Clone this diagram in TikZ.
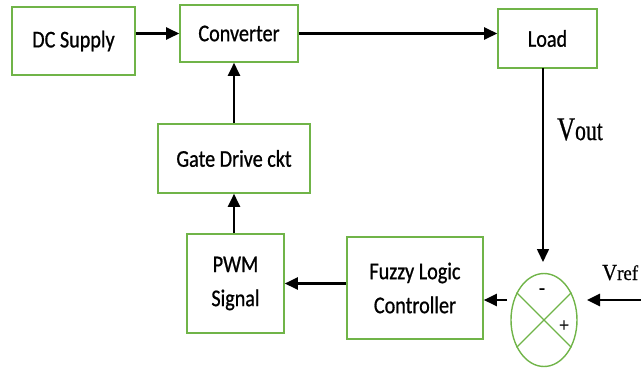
\documentclass[tikz,border=0pt]{standalone}
\usepackage{fontspec}
\setmainfont{Carlito}[FakeStretch=0.84, FakeBold=0.8]
\newfontfamily\tms{Liberation Serif}[FakeStretch=0.75, FakeBold=0.6]
\newfontfamily\tmsb{Liberation Serif}[FakeStretch=0.9, FakeBold=0.6]
\usetikzlibrary{arrows.meta,shapes.geometric}
\definecolor{boxgreen}{RGB}{112,180,72}
\tikzset{
  blk/.style={draw=boxgreen, line width=1.6pt, fill=white, inner sep=0pt, align=center,
              font=\fontsize{24}{34}\selectfont},
  arr/.style={line width=2.6pt, -{Triangle[length=13pt,width=12pt]}},
  thinarr/.style={line width=1.6pt, -{Triangle[length=13pt,width=12pt]}},
}
\begin{document}
\begin{tikzpicture}[x=1pt,y=-1pt]
\useasboundingbox (0,0) rectangle (641,372);
\node[blk, minimum width=123pt, minimum height=68pt] (dc) at (73.5,41) {DC Supply};
\node[blk, minimum width=118pt, minimum height=57pt] (conv) at (239,33.5) {Converter};
\node[blk, minimum width=99pt, minimum height=59pt] (load) at (547.5,38.5) {Load};
\node[blk, minimum width=152pt, minimum height=69pt] (gate) at (234,158.5) {Gate Drive ckt};
\node[blk, minimum width=97pt, minimum height=99pt] (pwm) at (235.5,283.5) {PWM\\Signal};
\node[blk, minimum width=136pt, minimum height=102pt] (fuzzy) at (415,288) {Fuzzy Logic\\Controller};
\node[draw=boxgreen, line width=1.4pt, ellipse, minimum width=66pt, minimum height=93pt, inner sep=0pt] (sum) at (544,320) {};
\draw[boxgreen, line width=1.4pt] (sum.135) -- (sum.-45);
\draw[boxgreen, line width=1.4pt] (sum.45) -- (sum.-135);
\node[font=\tmsb\fontsize{20}{20}\selectfont, inner sep=0pt] (minus) at (542,291) {-};
\node[font=\tmsb\fontsize{20}{20}\selectfont, inner sep=0pt] (plus) at (564,326) {+};

\coordinate (sl) at (507,300);
\coordinate (fe) at (fuzzy.east |- sl);
\coordinate (vin) at (645,300);
\coordinate (vtip) at (587,300);
\coordinate (ltop) at (543,68);
\coordinate (ltip) at (543,262);

\draw[arr] (dc.east |- conv.west) -- (conv.west);
\draw[arr] (conv.east) -- (conv.east -| load.west);
\draw[arr] (gate.north) -- (gate.north |- conv.south);
\draw[arr] (pwm.north -| gate.south) -- (gate.south);
\draw[arr] (fuzzy.west |- pwm.east) -- (pwm.east);
\draw[arr] (sl) -- (fe);
\draw[arr] (vin) -- (vtip);
\draw[thinarr] (ltop) -- (ltip);

\node[anchor=base west, inner sep=0pt, font=\tms] (vout) at (557,140) {\fontsize{33}{33}\selectfont V\fontsize{29}{29}\selectfont out};
\node[anchor=base west, inner sep=0pt, font=\tmsb] (vref) at (602,280) {\fontsize{23}{23}\selectfont V\fontsize{21}{21}\selectfont ref};
\end{tikzpicture}
\end{document}
